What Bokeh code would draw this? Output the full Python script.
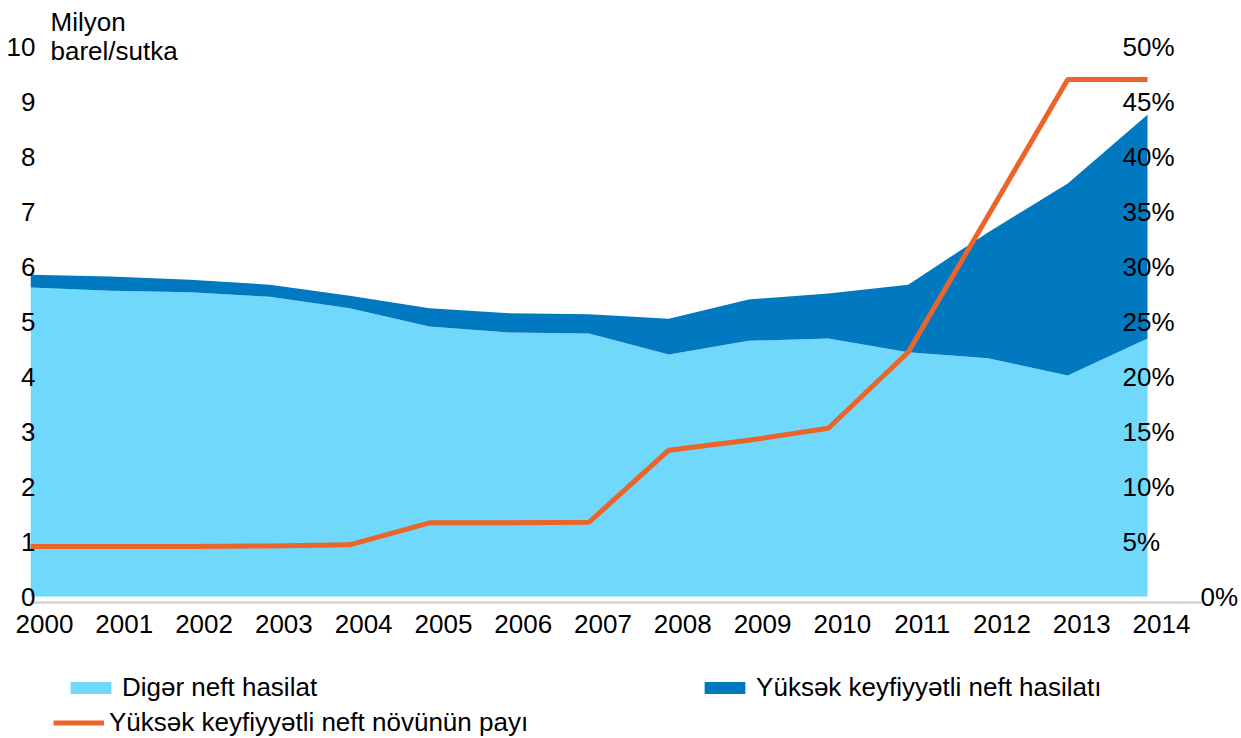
from bokeh.plotting import figure
from bokeh.layouts import column
from bokeh.models import (Range1d, LinearAxis, FixedTicker, PrintfTickFormatter,
                          Legend, LegendItem, Label, ColumnDataSource)
from bokeh.embed import file_html
from bokeh.resources import INLINE

# ---- data ----
years = list(range(2000, 2015))
other_prod = [5.62, 5.56, 5.53, 5.45, 5.24, 4.91, 4.80, 4.78, 4.40, 4.65, 4.69, 4.44, 4.33, 4.02, 4.69]
high_prod = [0.23, 0.26, 0.23, 0.22, 0.23, 0.33, 0.35, 0.35, 0.65, 0.75, 0.82, 1.23, 2.29, 3.49, 4.07]
high_share = [4.55, 4.55, 4.55, 4.6, 4.7, 6.7, 6.7, 6.75, 13.3, 14.2, 15.3, 22.2, 34.6, 47.0, 47.0]
left_ticks = list(range(0, 11))
pct_ticks = [5, 10, 15, 20, 25, 30, 35, 40, 45, 50]
zero_pct_tick = [0]
unit_label = "Milyon\nbarel/sutka"
series_names = ["Digər neft hasilat", "Yüksək keyfiyyətli neft hasilatı",
                "Yüksək keyfiyyətli neft növünün payı"]

# ---- style ----
FONT = "Liberation Sans"
FS = "26px"
LIGHT = "#6fd8fb"
DARK = "#0079c1"
ORANGE = "#eb6429"
GREY = "#d9d9d9"

src = ColumnDataSource(dict(year=years, other=other_prod, high=high_prod, share=high_share))

px_per_year = 79.8
px_per_unit = 55.0
x_end = years[-1] + 54 / px_per_year
y_start = -6 / px_per_unit
y_end = 596 / px_per_unit

MAIN_H = 650
p = figure(width=1241, height=MAIN_H, output_backend="svg", toolbar_location=None,
           x_range=Range1d(years[0], x_end), y_range=Range1d(y_start, y_end),
           x_axis_location=None, y_axis_location=None,
           min_border_left=30, min_border_right=40, min_border_top=0, min_border_bottom=48)
p.outline_line_color = None
p.grid.visible = False
p.extra_y_ranges = {"pct": Range1d(y_start * 5, y_end * 5)}
shift = 14 / px_per_year
p.extra_x_ranges = {"lab": Range1d(years[0] - shift, x_end - shift)}

p.varea_stack(["other", "high"], x="year", source=src, color=[LIGHT, DARK])
p.line("year", "share", source=src, y_range_name="pct", color=ORANGE, line_width=5)

def style_axis(ax):
    ax.major_label_text_font = FONT
    ax.major_label_text_font_size = FS
    ax.major_label_text_color = "black"
    ax.major_tick_out = 0
    ax.major_tick_in = 0
    ax.minor_tick_out = 0
    ax.minor_tick_in = 0

ly = LinearAxis(ticker=FixedTicker(ticks=left_ticks), major_label_standoff=-5)
style_axis(ly)
ly.axis_line_color = None
p.add_layout(ly, "left")

ry = LinearAxis(y_range_name="pct", ticker=FixedTicker(ticks=pct_ticks),
                formatter=PrintfTickFormatter(format="%d%%"), major_label_standoff=-79)
style_axis(ry)
ry.axis_line_color = None
p.add_layout(ry, "right")

ry0 = LinearAxis(y_range_name="pct", ticker=FixedTicker(ticks=zero_pct_tick),
                 formatter=PrintfTickFormatter(format="%d%%"), major_label_standoff=-1)
style_axis(ry0)
ry0.axis_line_color = None
p.add_layout(ry0, "right")

xa = LinearAxis(x_range_name="lab", ticker=FixedTicker(ticks=years),
                formatter=PrintfTickFormatter(format="%d"), major_label_standoff=12)
style_axis(xa)
xa.axis_line_color = GREY
xa.axis_line_width = 3
p.add_layout(xa, "below")

p.add_layout(Label(x=years[0], y=10, x_offset=20, y_offset=-20, text=unit_label,
                   text_font=FONT, text_font_size=FS, text_color="black",
                   text_baseline="bottom", text_align="left", text_line_height=0.97))

# ---- legend strip (series keys drawn by Bokeh's Legend) ----
LEG_H = 738 - MAIN_H
pl = figure(width=1241, height=LEG_H, output_backend="svg", toolbar_location=None,
            x_range=Range1d(0, 1), y_range=Range1d(0, 1),
            x_axis_location=None, y_axis_location=None,
            min_border_left=0, min_border_right=0, min_border_top=0, min_border_bottom=0)
pl.outline_line_color = None
pl.grid.visible = False
k_other, k_high = pl.varea_stack(["other", "high"], x="year", source=src, color=[LIGHT, DARK])
k_line = pl.line("year", "share", source=src, color=ORANGE, line_width=5)
for r in (k_other, k_high, k_line):
    r.visible = False

def mk_legend(items, loc, standoff, spacing=0):
    lg = Legend(items=items, location=loc, orientation="horizontal")
    lg.padding = 0
    lg.margin = 0
    lg.spacing = spacing
    lg.border_line_color = None
    lg.background_fill_alpha = 0
    lg.inactive_fill_alpha = 0
    lg.label_text_font = FONT
    lg.label_text_font_size = FS
    lg.label_text_color = "black"
    lg.glyph_width = 51
    lg.glyph_height = 15
    lg.label_standoff = standoff
    lg.label_height = 15
    lg.click_policy = "none"
    return lg

legA = mk_legend([LegendItem(label=series_names[0], renderers=[k_other]),
                  LegendItem(label=series_names[1], renderers=[k_high])],
                 (35, 35), 6, spacing=382)
legB = mk_legend([LegendItem(label=series_names[2], renderers=[k_line])],
                 (23, 0), 5)
pl.add_layout(legA, "center")
pl.add_layout(legB, "center")

open("out.html", "w").write(file_html(column(p, pl), INLINE))
